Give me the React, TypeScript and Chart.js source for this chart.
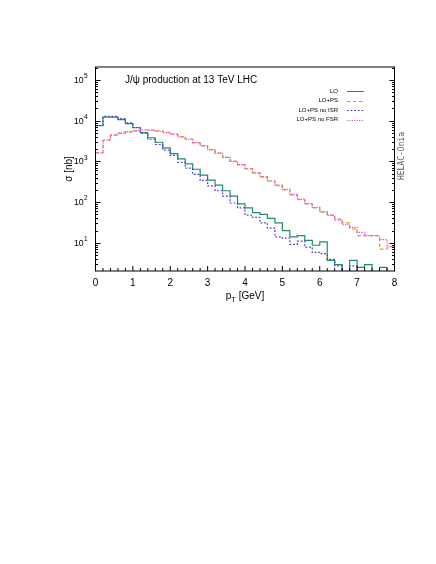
import React, { useEffect, useRef } from 'react';
import { Chart, registerables } from 'chart.js';

Chart.register(...registerables);

// ---- data (bin left edges in GeV, 0.2 GeV bins) ----
const binEdges = [
  0, 0.2, 0.4, 0.6, 0.8, 1.0, 1.2, 1.4, 1.6, 1.8,
  2.0, 2.2, 2.4, 2.6, 2.8, 3.0, 3.2, 3.4, 3.6, 3.8,
  4.0, 4.2, 4.4, 4.6, 4.8, 5.0, 5.2, 5.4, 5.6, 5.8,
  6.0, 6.2, 6.4, 6.6, 6.8, 7.0, 7.2, 7.4, 7.6, 7.8, 8.0,
];

const loValues = [
  7500, 12200, 12200, 10600, 8500, 6700, 5100, 3800, 2950, 2150,
  1550, 1150, 870, 640, 460, 345, 260, 190, 140, 90,
  72, 55, 50, 40, 31, 20, 14, 15, 11.5, 8.7,
  10.5, 3.7, 2.9, 1, 3.7, 2.5, 2.9, 1, 2.5, 1,
];

const loPsValues = [
  1650, 3300, 4400, 4900, 5300, 5600, 5900, 5900, 5600, 5200,
  4700, 4000, 3550, 2850, 2450, 1950, 1600, 1260, 1000, 830,
  660, 520, 420, 330, 260, 200, 150, 115, 90, 72,
  57, 48, 38, 31, 22, 15, 15, 15, 7, 8,
];

const noIsrValues = [
  7600, 12800, 12800, 11200, 8800, 6800, 4900, 3500, 2600, 1900,
  1400, 950, 680, 480, 340, 250, 190, 140, 95, 72,
  48, 42, 31, 23, 14, 13, 9.2, 11, 7.8, 5.8,
  5.4, 3.9, 2.7, 1, 2.7, 1, 1, 1, 1, 1,
];

const noFsrValues = [
  1600, 3400, 4500, 5000, 5400, 5700, 5900, 5800, 5500, 5100,
  4600, 4000, 3500, 2900, 2400, 1950, 1600, 1250, 1000, 820,
  650, 520, 410, 330, 255, 205, 155, 118, 92, 74,
  58, 47, 36, 28, 24, 18, 15, 15, 12, 8,
];

const seriesLabels = ['LO', 'LO+PS', 'LO+PS no ISR', 'LO+PS no FSR'];
const xTickLabels = ['0', '1', '2', '3', '4', '5', '6', '7', '8'];
const xMinorStep = 0.2;
const yTickExponents = [1, 2, 3, 4, 5];
const titleText = 'J/\u03c8 production at 13 TeV LHC';
const yTitle = '\u03c3 [nb]';
const watermark = 'HELAC-Onia';

const SANS = '"Liberation Sans", Arial, sans-serif';

function toPoints(values: number[]) {
  return binEdges.map((e, i) => ({ x: e, y: values[Math.min(i, values.length - 1)] }));
}

const overlay = {
  id: 'gnuplotOverlay',
  afterDraw(chart: any) {
    const { ctx, chartArea: a, scales } = chart;
    const xs = scales.x;
    const ys = scales.y;
    ctx.save();
    ctx.strokeStyle = '#000';
    ctx.fillStyle = '#000';
    ctx.lineWidth = 1;

    // x ticks (bottom, inward)
    const nMinor = Math.round(8 / xMinorStep);
    for (let i = 0; i <= nMinor; i++) {
      const v = i * xMinorStep;
      const px = xs.getPixelForValue(v);
      const major = Math.abs(v - Math.round(v)) < 1e-6;
      const len = major ? 5 : 3;
      ctx.beginPath();
      ctx.moveTo(px, a.bottom);
      ctx.lineTo(px, a.bottom - len);
      ctx.stroke();
    }
    // y ticks (left and right, inward)
    for (let e = 0; e <= 5; e++) {
      for (let m = 1; m <= 9; m++) {
        const v = m * Math.pow(10, e);
        if (v < ys.min || v > ys.max) continue;
        const py = Math.round(ys.getPixelForValue(v)) + 0.5;
        const len = m === 1 ? 5 : 2.5;
        ctx.beginPath();
        ctx.moveTo(a.left, py);
        ctx.lineTo(a.left + len, py);
        ctx.moveTo(a.right, py);
        ctx.lineTo(a.right - len, py);
        ctx.stroke();
      }
    }
    // border
    ctx.strokeRect(a.left, a.top, a.right - a.left, a.bottom - a.top);

    // x tick labels
    ctx.font = `10px ${SANS}`;
    ctx.textAlign = 'center';
    ctx.textBaseline = 'alphabetic';
    xTickLabels.forEach((t) => {
      ctx.fillText(t, xs.getPixelForValue(Number(t)), a.bottom + 14.5);
    });

    // y tick labels 10^n
    yTickExponents.forEach((n) => {
      const py = ys.getPixelForValue(Math.pow(10, n));
      ctx.font = `6.5px ${SANS}`;
      const ew = ctx.measureText(String(n)).width;
      const baseRight = a.left - 8.2 - ew;
      ctx.textAlign = 'left';
      ctx.fillText(String(n), baseRight + 0.3, py - 1.8);
      ctx.font = `8.8px ${SANS}`;
      ctx.textAlign = 'right';
      ctx.fillText('10', baseRight, py + 3);
    });

    // x title p_T [GeV]
    {
      const cx = (a.left + a.right) / 2;
      const by = 299;
      ctx.font = `10px ${SANS}`;
      const wp = ctx.measureText('p').width;
      const wr = ctx.measureText(' [GeV]').width;
      ctx.font = `7.5px ${SANS}`;
      const wt = ctx.measureText('T').width;
      const total = wp + wt + wr;
      const x0 = cx - total / 2;
      ctx.textAlign = 'left';
      ctx.font = `10px ${SANS}`;
      ctx.fillText('p', x0, by);
      ctx.font = `7.5px ${SANS}`;
      ctx.fillText('T', x0 + wp, by + 2.5);
      ctx.font = `10px ${SANS}`;
      ctx.fillText(' [GeV]', x0 + wp + wt, by);
    }

    // y title
    ctx.save();
    ctx.translate(71.5, 169);
    ctx.rotate(-Math.PI / 2);
    ctx.font = `10px ${SANS}`;
    ctx.textAlign = 'center';
    ctx.fillText(yTitle, 0, 0);
    ctx.restore();

    // inset title
    ctx.font = `10px ${SANS}`;
    ctx.textAlign = 'left';
    ctx.fillText(titleText, 125, 83);

    // legend
    const ds = chart.data.datasets;
    ctx.font = `6px ${SANS}`;
    ctx.textAlign = 'right';
    ctx.textBaseline = 'middle';
    seriesLabels.forEach((lab, i) => {
      const y = 91 + i * 9.5;
      ctx.fillStyle = '#000';
      ctx.fillText(lab, 338, y);
      const d = ds[i];
      ctx.strokeStyle = d.borderColor;
      ctx.lineWidth = 1;
      ctx.setLineDash(d.borderDash || []);
      ctx.beginPath();
      ctx.moveTo(347, Math.round(y) + 0.5);
      ctx.lineTo(364, Math.round(y) + 0.5);
      ctx.stroke();
    });
    ctx.setLineDash([]);

    // watermark
    ctx.save();
    ctx.translate(404, 156);
    ctx.rotate(-Math.PI / 2);
    ctx.font = '8px "DejaVu Sans Mono", "Liberation Mono", monospace';
    ctx.fillStyle = '#555';
    ctx.textAlign = 'center';
    ctx.textBaseline = 'alphabetic';
    ctx.fillText(watermark, 0, 0);
    ctx.restore();

    ctx.restore();
  },
};

export default function App() {
  const ref = useRef<HTMLCanvasElement | null>(null);

  useEffect(() => {
    if (!ref.current) return;
    const common = { stepped: 'before' as const, pointRadius: 0, fill: false, borderWidth: 1.2 };
    const chart = new Chart(ref.current, {
      type: 'line',
      data: {
        datasets: [
          { ...common, label: seriesLabels[0], data: toPoints(loValues), borderColor: '#1f8c69', order: 4 },
          { ...common, label: seriesLabels[1], data: toPoints(loPsValues), borderColor: '#cf9a25', borderDash: [3.5, 2.5], order: 3 },
          { ...common, label: seriesLabels[2], data: toPoints(noIsrValues), borderColor: '#4a3ce0', borderDash: [1.8, 1.8], order: 2 },
          { ...common, label: seriesLabels[3], data: toPoints(noFsrValues), borderColor: '#f04fd6', borderDash: [1.2, 1.2], order: 1 },
        ] as any,
      },
      options: {
        responsive: false,
        animation: false,
        devicePixelRatio: 1,
        events: [],
        layout: { padding: { left: 95.5, right: 41.5, top: 67, bottom: 293 } },
        scales: {
          x: { type: 'linear', min: 0, max: 8, display: false },
          y: { type: 'logarithmic', min: 2.03, max: 2.08e5, display: false },
        },
        plugins: { legend: { display: false }, tooltip: { enabled: false } },
      },
      plugins: [overlay],
    });
    return () => chart.destroy();
  }, []);

  return (
    <div style={{ position: 'absolute', left: 0, top: 0, width: 436, height: 564, background: '#fff' }}>
      <canvas ref={ref} width={436} height={564} style={{ display: 'block' }} />
    </div>
  );
}
